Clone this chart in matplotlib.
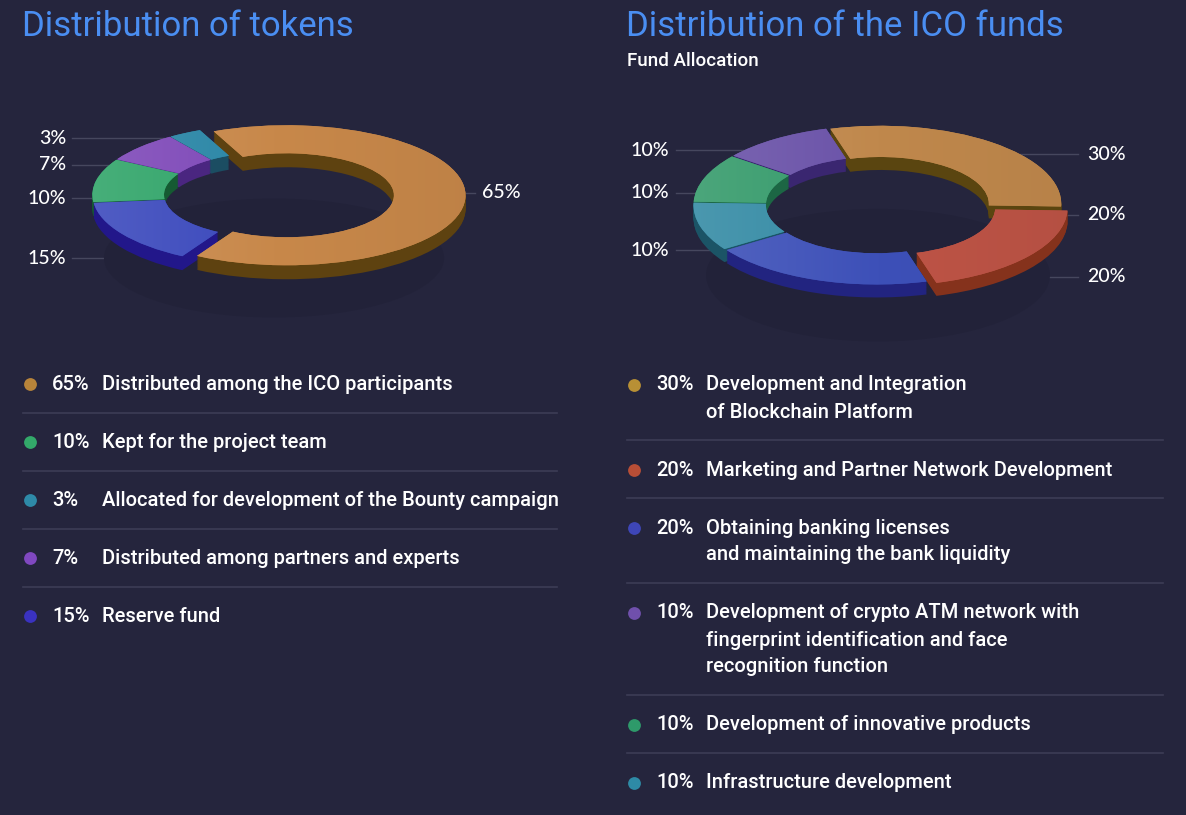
import numpy as np
import matplotlib
matplotlib.use("Agg")
import matplotlib.pyplot as plt
from matplotlib.patches import Ellipse
from matplotlib.colors import LinearSegmentedColormap, to_rgb

W, H = 1186, 815
BG = "#25253d"
SHADOW = "#222239"
SEP = "#3c3d56"
LEAD = "#46475e"
TITLE_C = "#4a8ef2"

# ---- data: tokens (legend order)
token_pct = [65, 10, 3, 7, 15]
token_text = ["Distributed among the ICO participants",
              "Kept for the project team",
              "Allocated for development of the Bounty campaign",
              "Distributed among partners and experts",
              "Reserve fund"]
token_top = ["#c8884a", "#2fa468", "#2a86a6", "#7e48b8", "#3a48bc"]
token_side = ["#5e4210", "#155a32", "#1b4d62", "#4a2680", "#22178a"]
token_dot = ["#b8843a", "#33a96a", "#2e8aa8", "#8048c0", "#3a32c0"]
token_order = [0, 4, 1, 3, 2]          # clockwise from the top

# ---- data: ICO funds (legend order)
fund_pct = [30, 20, 20, 10, 10, 10]
fund_text = ["Development and Integration\nof Blockchain Platform",
             "Marketing and Partner Network Development",
             "Obtaining banking licenses\nand maintaining the bank liquidity",
             "Development of crypto ATM network with\nfingerprint identification and face\nrecognition function",
             "Development of innovative products",
             "Infrastructure development"]
fund_top = ["#c0884c", "#be5446", "#3d50b8", "#6a52a8", "#349a6a", "#338aa4"]
fund_side = ["#5a4510", "#85321c", "#222480", "#3a2670", "#1c6644", "#1b5466"]
fund_dot = ["#b89035", "#b84e36", "#3e46b8", "#7050ac", "#2e9a6a", "#2e8aa6"]
fund_order = [0, 1, 2, 5, 4, 3]

FONT = ["Roboto", "DejaVu Sans"]


def mix(c, other, t):
    a = np.array(to_rgb(c))
    b = np.array(to_rgb(other))
    return tuple(a * (1 - t) + b * t)


fig = plt.figure(figsize=(W / 100, H / 100), dpi=100, facecolor=BG)
ov = fig.add_axes([0, 0, 1, 1])
ov.set_xlim(0, W)
ov.set_ylim(H, 0)
ov.axis("off")


def donut(cx, cy, rx, ry, values, tops, sides, order, explode, start, depth_px, labels):
    ax = fig.add_axes([(cx - 1.6 * rx) / W, 1 - (cy + 1.9 * ry) / H, 3.2 * rx / W, 3.3 * ry / H])
    ax.patch.set_visible(False)
    vals = [values[i] for i in order]
    tp = [tops[i] for i in order]
    sd = [sides[i] for i in order]
    ex = [explode[i] for i in order]
    depth = depth_px / ry
    ax.add_patch(Ellipse((0, -0.9), 1.9, 1.7, color=SHADOW, lw=0, zorder=0))
    n = 18
    for k in range(n, 0, -1):
        ax.pie(vals, colors=sd, startangle=start, counterclock=False,
               center=(0, -depth * k / n), explode=ex,
               wedgeprops=dict(width=0.4, linewidth=0))
    wedges, _ = ax.pie(vals, colors=tp, startangle=start, counterclock=False,
                       explode=ex, wedgeprops=dict(width=0.4, linewidth=0))
    grad = np.linspace(0, 1, 256).reshape(1, -1)
    for w, c in zip(wedges, tp):
        cm = LinearSegmentedColormap.from_list("g", [mix(c, "white", 0.13), c, mix(c, "black", 0.05)])
        im = ax.imshow(grad, extent=(-1.15, 1.15, -1.15, 1.15), cmap=cm, aspect="auto",
                       interpolation="bilinear", zorder=w.get_zorder())
        im.set_clip_path(w)
    ax.set_aspect("auto")
    ax.set_xlim(-1.6, 1.6)
    ax.set_ylim(-1.9, 1.4)
    ax.axis("off")

    # percentage labels with leader lines
    for i, side, py, tx, lx in labels:
        y = (cy - py) / ry
        t = min(abs(y + (depth / 2 if y < 0 else 0)), 0.97)
        xe = np.sqrt(1 - t * t) - 0.04
        if side == "L":
            ax.plot([(lx - cx) / rx, -xe], [y, y], color=LEAD, lw=1, zorder=-1, clip_on=False)
            ax.text((tx - cx) / rx, y, f"{values[i]}%", ha="right", va="center",
                    color="white", fontsize=14, fontweight="medium",
                    family=["Lato", "DejaVu Sans"], clip_on=False)
        else:
            ax.plot([xe, (lx - cx) / rx], [y, y], color=LEAD, lw=1, zorder=-1, clip_on=False)
            ax.text((tx - cx) / rx, y, f"{values[i]}%", ha="left", va="center",
                    color="white", fontsize=14, fontweight="medium",
                    family=["Lato", "DejaVu Sans"], clip_on=False)
    return ax


# left donut: (slice, side, label y, text x, line x)
donut(274, 195, 179, 70, token_pct, token_top, token_side, token_order,
      [0.07, 0.015, 0.015, 0.015, 0.015], 114, 14,
      [(2, "L", 138, 66, 72), (3, "L", 165, 66, 72), (1, "L", 198, 66, 72),
       (4, "L", 258, 66, 72), (0, "R", 193, 482, 475)])

donut(878, 205, 181, 78, fund_pct, fund_top, fund_side, fund_order,
      [0.02, 0.06, 0.02, 0.02, 0.02, 0.02], 106, 13,
      [(3, "L", 150, 669, 676), (4, "L", 193, 669, 676), (5, "L", 250, 669, 676),
       (0, "R", 154, 1087, 1078), (1, "R", 215, 1087, 1078), (2, "R", 277, 1087, 1078)])

# titles
ov.text(22, 26, "Distribution of tokens", color=TITLE_C, fontsize=25,
        family=FONT, va="center", ha="left")
ov.text(626, 26, "Distribution of the ICO funds", color=TITLE_C, fontsize=25,
        family=FONT, va="center", ha="left")
ov.text(627, 61, "Fund Allocation", color="white", fontsize=13.5, fontweight="medium",
        family=FONT, va="center", ha="left")


def legend(x0, x1, y0, pct, texts, dots, dx_pct, dx_txt, line_h, gap_a, gap_b):
    y = y0
    for k in range(len(pct)):
        lines = texts[k].split("\n")
        ov.scatter([x0 + 7], [y], s=85, color=dots[k], zorder=3, linewidths=0)
        ov.text(x0 + dx_pct, y, f"{pct[k]}%", color="white", fontsize=14.5, fontweight="medium",
                family=FONT, va="center", ha="left")
        for j, ln in enumerate(lines):
            ov.text(x0 + dx_txt, y + j * line_h, ln, color="white", fontsize=14.5,
                    fontweight="medium", family=FONT, va="center", ha="left")
        last = y + (len(lines) - 1) * line_h
        if k < len(pct) - 1:
            ov.plot([x0, x1], [last + gap_a] * 2, color=SEP, lw=1.2)
        y = last + gap_a + gap_b


legend(23, 557, 384, token_pct, token_text, token_dot, 29, 79, 27, 29, 29)
legend(627, 1163, 385, fund_pct, fund_text, fund_dot, 29, 79, 27, 28, 30)

fig.savefig("out.png", dpi=100, facecolor=BG)
